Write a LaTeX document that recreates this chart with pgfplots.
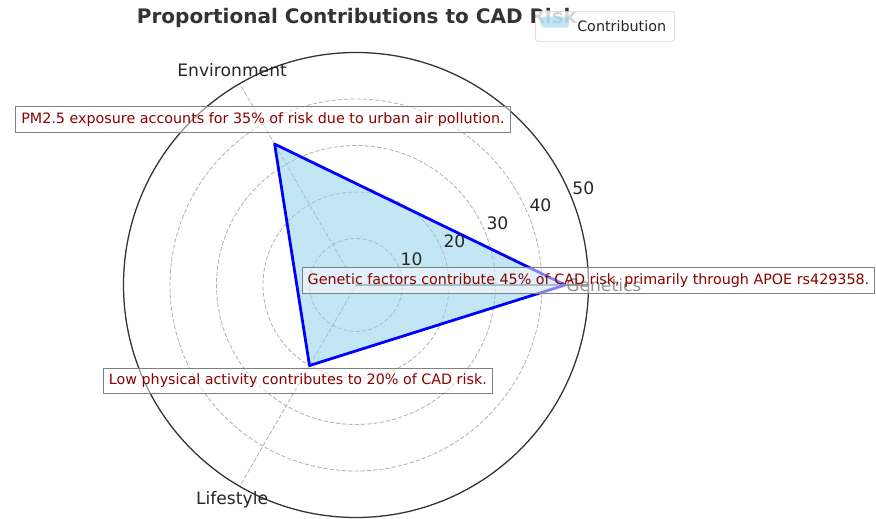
\documentclass[border=0pt]{standalone}
\usepackage{pgfplots}
\pgfplotsset{compat=1.18}
\usepgfplotslibrary{polar}
\usepackage{fontspec}
\setmainfont{DejaVu Sans}
\definecolor{skyfill}{RGB}{135,206,235}
\definecolor{annored}{RGB}{139,0,0}
\definecolor{txt}{RGB}{38,38,38}
\definecolor{ttl}{RGB}{51,51,51}
\tikzset{
  anno/.style={draw=gray, line width=0.8pt, fill=white, fill opacity=0.5, text opacity=1,
    text=annored, font=\fontsize{10.3}{12}\selectfont, inner sep=4pt,
    text height=7.8pt, text depth=2.5pt, yshift=3.2pt},
  rlab/.style={anchor=south west, inner sep=1pt, text=txt, font=\fontsize{12.35}{14}\selectfont},
  clab/.style={text=txt, font=\fontsize{12.35}{14}\selectfont},
}
\begin{document}
\begin{tikzpicture}
\begin{polaraxis}[
  scale only axis, width=334.8pt, height=334.8pt,
  xmin=0, xmax=360, ymin=0, ymax=50,
  xtick={0,120,240}, ytick={10,20,30,40,50},
  xticklabels={}, yticklabels={},
  major tick length=0pt,
  xmajorgrids, ymajorgrids,
  major grid style={black!30, line width=0.6pt, dash pattern=on 3pt off 1.5pt},
  axis line style={black!80, line width=0.9pt},
  clip=false,
  legend style={at={(1.0355,1.056)}, anchor=center, draw=black!20, rounded corners=2pt,
    fill=white, fill opacity=0.8, text opacity=1, text=txt,
    font=\fontsize{10.3}{12}\selectfont, inner xsep=4pt, inner ysep=3.8pt,
    nodes={inner sep=2pt}},
  legend image code/.code={%
    \fill[skyfill, fill opacity=0.5] (0pt,-0.5pt) rectangle (20pt,7.5pt);
    \path (0pt,0pt) (24pt,0pt);},
]
% fill first, then the outline
\addplot[draw=none, fill=skyfill, fill opacity=0.5] coordinates {
  (0,45) (120,35) (240,20) (360,45)};
\addlegendentry{Contribution}
\addplot[blue, line width=2pt, line join=round, forget plot] coordinates {
  (0,45) (120,35) (240,20) (360,45)};

\coordinate (O) at (axis cs:0,0);

% category labels
\node[clab] at (axis cs:0,53.3) {Genetics};
\node[clab] at (axis cs:120,53.3) {Environment};
\node[clab] at (axis cs:240,53.3) {Lifestyle};

% radial labels
\node[rlab] at (axis cs:22.5,10) {10};
\node[rlab] at (axis cs:22.5,20) {20};
\node[rlab] at (axis cs:22.5,30) {30};
\node[rlab] at (axis cs:22.5,40) {40};
\node[rlab] at (axis cs:22.5,50) {50};

\node[font=\bfseries\fontsize{14.4}{17}\selectfont, text=ttl] at ([shift={(0.7pt,192.2pt)}]O)
  {Proportional Contributions to CAD Risk};

% annotations
\node[anno] at (axis cs:0,50) {Genetic factors contribute 45\% of CAD risk, primarily through APOE rs429358.};
\node[anno] at (axis cs:120,40) {PM2.5 exposure accounts for 35\% of risk due to urban air pollution.};
\node[anno] at (axis cs:240,25) {Low physical activity contributes to 20\% of CAD risk.};
\end{polaraxis}
\pgfresetboundingbox
\path[use as bounding box] ([shift={(-256.32pt,-168.48pt)}]O) rectangle ([shift={(374.4pt,205.2pt)}]O);
\end{tikzpicture}
\end{document}
